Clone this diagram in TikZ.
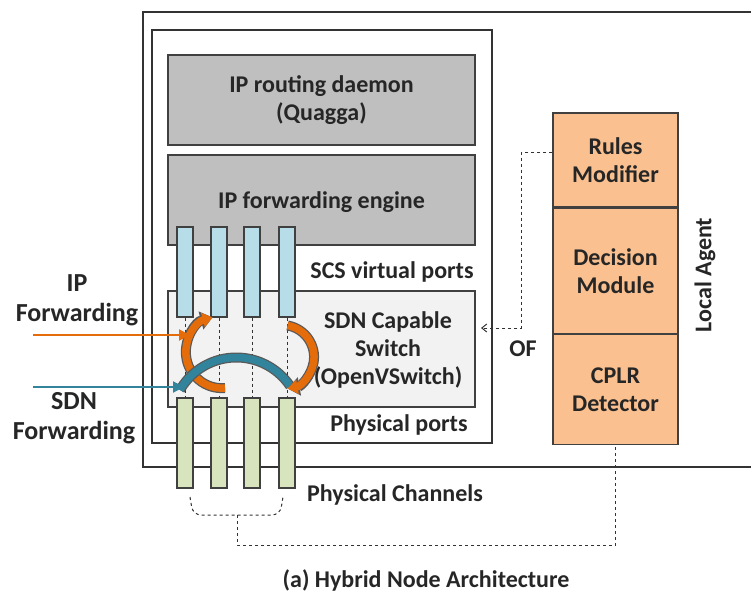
\documentclass[tikz,border=0pt]{standalone}
\usepackage{fontspec}
\setmainfont{Carlito}
\usepackage{xcolor}
\usetikzlibrary{arrows.meta,positioning}

\definecolor{daemongray}{HTML}{BFBFBF}
\definecolor{switchgray}{HTML}{F2F2F2}
\definecolor{vportblue}{HTML}{B7DEE8}
\definecolor{pportgreen}{HTML}{D7E4BD}
\definecolor{agentpeach}{HTML}{FAC090}
\definecolor{iporange}{HTML}{E46C0A}
\definecolor{sdnteal}{HTML}{31849B}

\begin{document}
\begin{tikzpicture}[x=1pt,y=1pt,
  every node/.style={font=\fontsize{24}{28}\selectfont\bfseries, align=center, text=black!85},
  sidelabel/.style={font=\fontsize{26}{30}\selectfont\bfseries},
  box/.style={draw=black!75, line width=1.2, inner sep=0},
  graybox/.style={box, fill=daemongray, minimum width=307},
  agentbox/.style={box, fill=agentpeach, minimum width=125},
  vport/.style={box, fill=vportblue, minimum width=16, minimum height=90},
  pport/.style={box, fill=pportgreen, minimum width=16, minimum height=90},
  signal/.style={black!80, line width=1, dashed},
  bandedge/.style={line width=10, draw=black!65},
  ipband/.style={line width=7.5, draw=iporange},
  sdnband/.style={line width=7.5, draw=sdnteal}]
\useasboundingbox (0,0) rectangle (751,-601);

% node frame
\draw[line width=2.5, black!80] (751,-12) -| (143,-467) -- (751,-467);
\draw[line width=1.2, black!80] (152,-30) rectangle (492,-443);

\node[graybox, minimum height=90] (daemon) at (321.5,-100) {IP routing daemon\\(Quagga)};
\node[graybox, minimum height=90] (engine) at (321.5,-200) {};
\node (enginetext) at (321.5,-202) {IP forwarding engine};
\node[box, fill=switchgray, minimum width=307, minimum height=116] (switch) at (321.5,-349) {};
\node (switchtext) at (388,-350) {SDN Capable\\Switch\\(OpenVSwitch)};

\node (vportlabel) at (392,-272) {SCS virtual ports};
\node (pportlabel) at (399,-425) {Physical ports};
\node (channels) at (395,-495) {Physical Channels};

% ports
\foreach \i/\x in {1/185,2/219,3/252,4/287} {
  \node[vport] (v\i) at (\x,-272) {};
  \node[pport] (p\i) at (\x,-443) {};
  \draw[black!80, line width=0.9, dashed] (v\i.south) -- (p\i.north);
}

% forwarding paths
\draw[bandedge, -{Triangle[length=12,width=18]}] (225,-388) arc[start angle=275, end angle=105, radius=36];
\draw[ipband, -{Triangle[length=10,width=14]}, iporange] (225,-388) arc[start angle=275, end angle=105, radius=36];
\draw[bandedge] (180,-390) arc[start angle=150, end angle=34, radius=65];
\draw[sdnband] (180,-390) arc[start angle=150, end angle=34, radius=65];
\draw[bandedge, -{Triangle[length=12,width=18]}] (287.6,-325.5) arc[start angle=80, end angle=-80, radius=32];
\draw[ipband, -{Triangle[length=10,width=14]}, iporange] (287.6,-325.5) arc[start angle=80, end angle=-80, radius=32];

\node[sidelabel] (iplabel) at (77,-300) {IP\\Forwarding};
\node[sidelabel] (sdnlabel) at (74,-418) {SDN\\Forwarding};
\coordinate (ipstart) at (33,-335);
\coordinate (ipend) at (190,-335);
\coordinate (sdnstart) at (33,-387);
\coordinate (sdnend) at (184,-387);
\draw[iporange, line width=2, -{Triangle[length=11,width=11]}] (ipstart) -- (ipend);
\draw[sdnteal, line width=2, -{Triangle[length=11,width=11]}] (sdnstart) -- (sdnend);

% local agent
\node[agentbox, minimum height=94] (rules) at (615.5,-160) {Rules\\Modifier};
\node[agentbox, minimum height=125, below=0 of rules] (decision) {Decision\\Module};
\node[agentbox, minimum height=110, below=0 of decision] (cplr) {CPLR\\Detector};
\node[rotate=90] (agentlabel) at (705,-275) {Local Agent};

\coordinate (ofbend) at (521,-328);
\coordinate (oftip) at (481,-328);
\draw[signal, -{Straight Barb[length=5,width=8]}] ([yshift=7]rules.west) -| (ofbend) -- (oftip);
\node (of) at (523,-349) {OF};

\draw[signal, rounded corners=8] (190,-497) -- (193,-515) -- (280,-515) -- (283,-497);
\coordinate (chanstub) at (237,-515);
\draw[signal] (chanstub) -- (237,-545) -| (cplr.south);

\node (caption) at (426,-580) {(a) Hybrid Node Architecture};
\end{tikzpicture}
\end{document}
